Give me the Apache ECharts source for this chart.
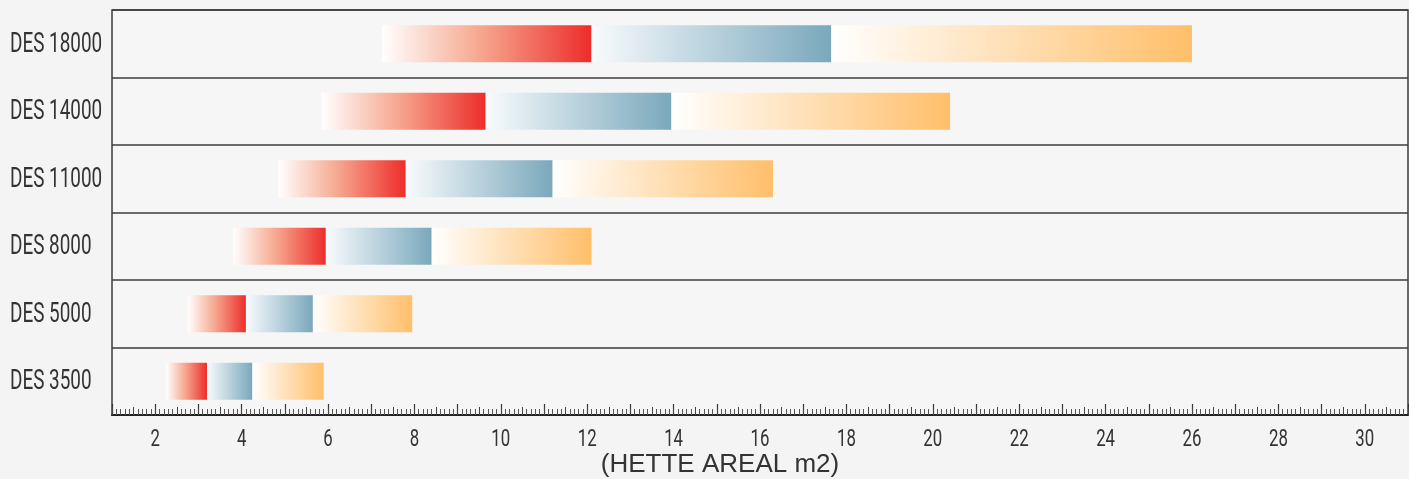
<!DOCTYPE html>
<html>
<head>
<meta charset="utf-8">
<script src="https://cdn.jsdelivr.net/npm/echarts@6/dist/echarts.min.js"></script>
<style>
  html, body { margin: 0; padding: 0; background: #f4f4f4; }
  #chart { width: 1409px; height: 479px; }
</style>
</head>
<body>
<div id="chart"></div>
<script>
// categories, top to bottom
const categories = ['DES 18000', 'DES 14000', 'DES 11000', 'DES 8000', 'DES 5000', 'DES 3500'];
// where each coloured segment starts / ends on the m2 axis
const redStart  = [7.25, 5.85, 4.85, 3.8, 2.75, 2.25];
const redEnd    = [12.1, 9.65, 7.8, 5.95, 4.1, 3.2];
const blueEnd   = [17.65, 13.95, 11.2, 8.4, 5.65, 4.25];
const orangeEnd = [26.0, 20.4, 16.3, 12.1, 7.95, 5.9];
// axis
const xMin = 1, xMax = 31;
const xTickLabels = [2, 4, 6, 8, 10, 12, 14, 16, 18, 20, 22, 24, 26, 28, 30];

const fontNarrow = "Roboto, 'DejaVu Sans Condensed', sans-serif";

function grad(stops) {
  return {
    type: 'linear', x: 0, y: 0, x2: 1, y2: 0,
    colorStops: stops.map(s => ({ offset: s[0], color: s[1] }))
  };
}

const chart = echarts.init(document.getElementById('chart'));

const option = {
  backgroundColor: '#f4f4f4',
  animation: false,
  grid: {
    left: 112, right: 1, top: 10, bottom: 64,
    outerBoundsMode: 'none',
    show: true,
    backgroundColor: '#f6f6f6',
    borderColor: '#3c3c3c',
    borderWidth: 1.5
  },
  xAxis: [
    {
      type: 'value',
      min: xMin, max: xMax, interval: 1,
      position: 'bottom',
      axisLine: { show: true, lineStyle: { color: '#222', width: 2 } },
      axisTick: { show: true, inside: true, length: 11, lineStyle: { color: '#333', width: 1.2 } },
      minorTick: { show: true, splitNumber: 10, length: 6, lineStyle: { color: '#555', width: 1 } },
      splitLine: { show: false },
      axisLabel: { show: false },
      name: '(HETTE AREAL m2)',
      nameLocation: 'middle',
      nameGap: 37,
      nameTextStyle: {
        fontFamily: "'Liberation Sans', Arial, sans-serif",
        fontSize: 26,
        color: '#333',
        padding: [0, 80, 0, 0]
      }
    },
    {
      // half-unit ticks of the ruler
      type: 'value',
      min: xMin, max: xMax, interval: 0.5,
      position: 'bottom',
      axisLine: { show: false },
      axisTick: { show: true, inside: true, length: 8, lineStyle: { color: '#444', width: 1 } },
      axisLabel: { show: false },
      splitLine: { show: false }
    }
  ],
  yAxis: {
    type: 'category',
    data: categories,
    inverse: true,
    axisLine: { show: false },
    axisTick: { show: false },
    splitLine: { show: true, lineStyle: { color: '#3c3c3c', width: 1.5 } },
    axisLabel: { show: false }
  },
  series: [
    {
      name: 'base',
      type: 'bar',
      stack: 'des',
      barWidth: 37,
      silent: true,
      itemStyle: { color: 'transparent' },
      data: redStart
    },
    {
      name: 'red',
      type: 'bar',
      stack: 'des',
      barWidth: 37,
      itemStyle: { color: grad([[0, '#ffffff'], [0.45, '#f6ab92'], [1, '#ed2d2a']]) },
      data: redEnd.map((v, i) => v - redStart[i])
    },
    {
      name: 'blue',
      type: 'bar',
      stack: 'des',
      barWidth: 37,
      itemStyle: { color: grad([[0, '#f8fbfd'], [1, '#7aa8bc']]) },
      data: blueEnd.map((v, i) => v - redEnd[i])
    },
    {
      name: 'orange',
      type: 'bar',
      stack: 'des',
      barWidth: 37,
      itemStyle: { color: grad([[0, '#ffffff'], [1, '#ffbf6a']]) },
      data: orangeEnd.map((v, i) => v - blueEnd[i])
    }
  ]
};

chart.setOption(option);

// condensed labels: the axis fonts in the original are narrow, so squeeze them
const labels = [];
categories.forEach(c => {
  const y = chart.convertToPixel({ yAxisIndex: 0 }, c);
  labels.push({
    type: 'text', x: 10, y: y + 1, scaleX: 0.7, silent: true,
    style: { text: c, fontFamily: fontNarrow, fontSize: 27, fill: '#333', align: 'left', verticalAlign: 'middle' }
  });
});
xTickLabels.forEach(v => {
  const x = chart.convertToPixel({ xAxisIndex: 0 }, v);
  labels.push({
    type: 'text', x: x, y: 440, scaleX: 0.7, silent: true,
    style: { text: String(v), fontFamily: fontNarrow, fontSize: 24, fill: '#333', align: 'center', verticalAlign: 'middle' }
  });
});
chart.setOption({ graphic: labels });
</script>
</body>
</html>
